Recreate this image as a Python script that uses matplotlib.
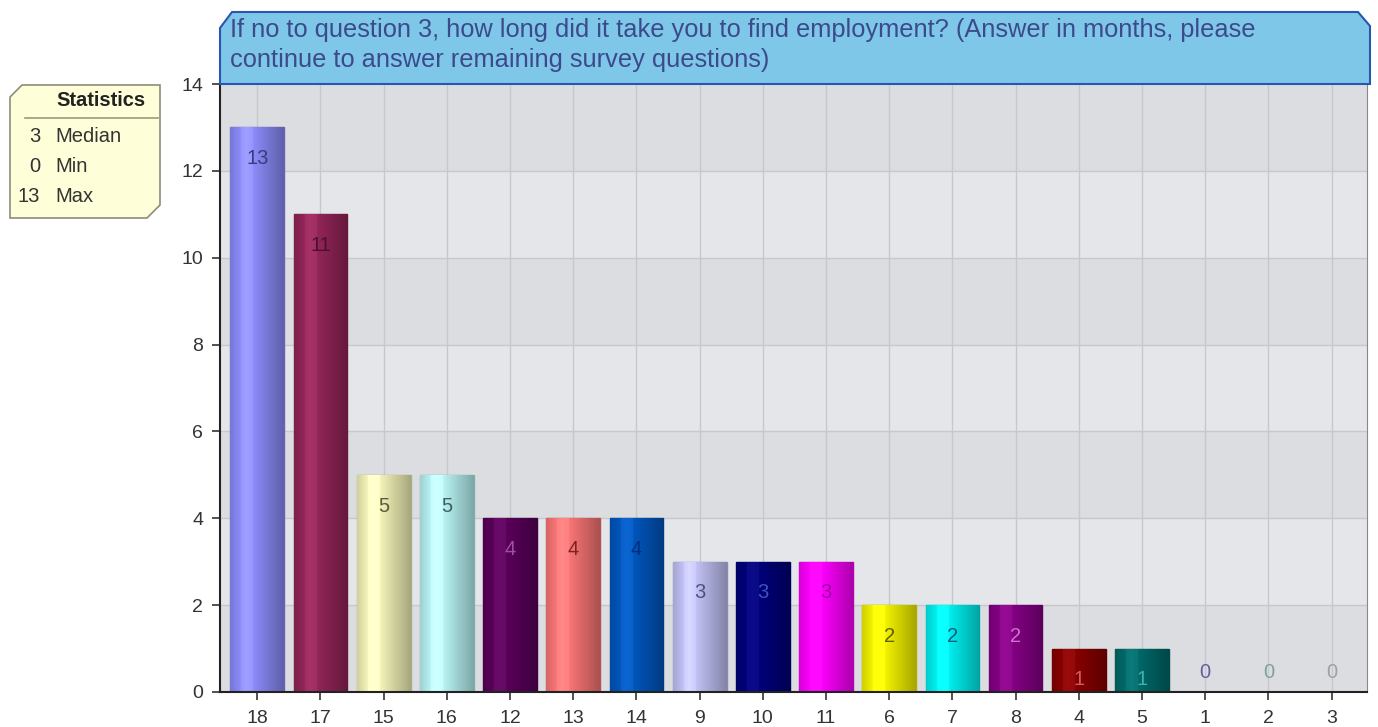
import numpy as np
import matplotlib.pyplot as plt
from matplotlib.patches import Polygon
from matplotlib.colors import to_rgb

# Data
#################
categories = ['18', '17', '15', '16', '12', '13', '14', '9', '10', '11',
              '6', '7', '8', '4', '5', '1', '2', '3']
counts = [13, 11, 5, 5, 4, 4, 4, 3, 3, 3, 2, 2, 2, 1, 1, 0, 0, 0]
bar_colors = ['#8585ee', '#8c2354', '#e8e8b0', '#b0e8e8', '#560056', '#ee7070',
              '#0052b4', '#b8b8ea', '#000074', '#f000f0', '#e8e800', '#00e4e4',
              '#7e007e', '#820000', '#006464', '#8888cc', '#88aaaa', '#aaaaaa']
label_colors = ['#3a3a80', '#4a1030', '#5a5a40', '#406060', '#a050a0', '#802020',
                '#003080', '#505080', '#4050c0', '#a000a0', '#606000', '#006080',
                '#d070d0', '#d06060', '#40b0b0', '#6060a0', '#80a0a0', '#a0a0a0']
title = ('If no to question 3, how long did it take you to find employment? (Answer in months, please\n'
         'continue to answer remaining survey questions)')
stat_names = ['Median', 'Min', 'Max']
stat_values = ['3', '0', '13']
#################

W, H = 1378, 727
fig = plt.figure(figsize=(W / 100, H / 100), dpi=100)
plt.rcParams['font.family'] = ['Liberation Sans', 'DejaVu Sans']


def px(x, y):
    return (x / W, 1 - y / H)


ax = fig.add_axes([220 / W, (H - 692) / H, (1367 - 220) / W, (692 - 84) / H])
x = np.arange(len(categories))
ax.set_xlim(-0.59, 17.56)
ax.set_ylim(0, 14)

# alternating background bands
for i, lo in enumerate(range(0, 14, 2)):
    ax.axhspan(lo, lo + 2, color='#dcdde0' if i % 2 == 0 else '#e4e6e9', zorder=0, lw=0)
for xi in x:
    ax.axvline(xi, color='#c6c8cc', lw=1, zorder=1)
for yv in range(2, 14, 2):
    ax.axhline(yv, color='#c6c8cc', lw=1, zorder=1)

bars = ax.bar(x, counts, width=0.85, color=bar_colors, zorder=2)

# cylinder-like horizontal shading on each bar
shade = np.concatenate([np.linspace(0.9, 1.12, 30), np.linspace(1.12, 0.72, 70)])
for b, c in zip(bars, bar_colors):
    h = b.get_height()
    if h <= 0:
        continue
    base = np.array(to_rgb(c))
    img = np.clip(base[None, None, :] * shade[None, :, None] + (shade[None, :, None] > 1.05) * 0.04, 0, 1)
    b.set_edgecolor(tuple(base * 0.75))
    b.set_linewidth(1)
    im = ax.imshow(img, extent=(b.get_x(), b.get_x() + b.get_width(), 0, h),
                   aspect='auto', zorder=2.5, interpolation='bilinear')
    im.set_clip_path(b)

for xi, v, lc in zip(x, counts, label_colors):
    ypos = v - 0.72 if v > 0 else 0.45
    ax.text(xi, ypos, str(v), ha='center', va='center', fontsize=14.5, color=lc, zorder=4)

ax.set_xticks(x)
ax.set_xticklabels(categories)
ax.set_yticks(range(0, 15, 2))
ax.tick_params(axis='both', labelsize=14, colors='#333333', length=6, width=1.2, direction='out')
ax.tick_params(axis='x', pad=7)
ax.tick_params(axis='y', pad=6)
for s in ['left', 'bottom']:
    ax.spines[s].set_color('#222222')
    ax.spines[s].set_linewidth(1.5)
ax.spines['right'].set_color('#888888')
ax.spines['top'].set_visible(False)

# title box
tb = Polygon([px(220, 84), px(220, 28), px(232, 12), px(1358, 12), px(1370, 26), px(1370, 84)],
             closed=True, transform=fig.transFigure, facecolor='#7ec7e8', edgecolor='#2a56b0',
             lw=1.5, zorder=5)
fig.patches.append(tb)
fig.text(230 / W, 1 - 18 / H, title, ha='left', va='top', fontsize=18.3, color='#3c4a8c',
         linespacing=1.33, zorder=6)

# statistics box
sb = Polygon([px(10, 97), px(22, 85), px(160, 85), px(160, 205), px(147, 218), px(10, 218)],
             closed=True, transform=fig.transFigure, facecolor='#fefed8', edgecolor='#8c8c7c',
             lw=1.2)
fig.patches.append(sb)
fig.text(146 / W, 1 - 100 / H, 'Statistics', ha='right', va='center', fontsize=14.5,
         fontweight='bold', color='#222222')
fig.lines.append(plt.Line2D([25 / W, 158 / W], [1 - 118 / H, 1 - 118 / H],
                            transform=fig.transFigure, color='#9a9a80', lw=1.2))
for i, (n, v) in enumerate(zip(stat_names, stat_values)):
    yy = 1 - (137 + 29.5 * i) / H
    fig.text(40 / W, yy, v, ha='right', va='center', fontsize=14.5, color='#333333')
    fig.text(55 / W, yy, n, ha='left', va='center', fontsize=14.5, color='#333333')

plt.savefig('out.png', dpi=100)
plt.close()
